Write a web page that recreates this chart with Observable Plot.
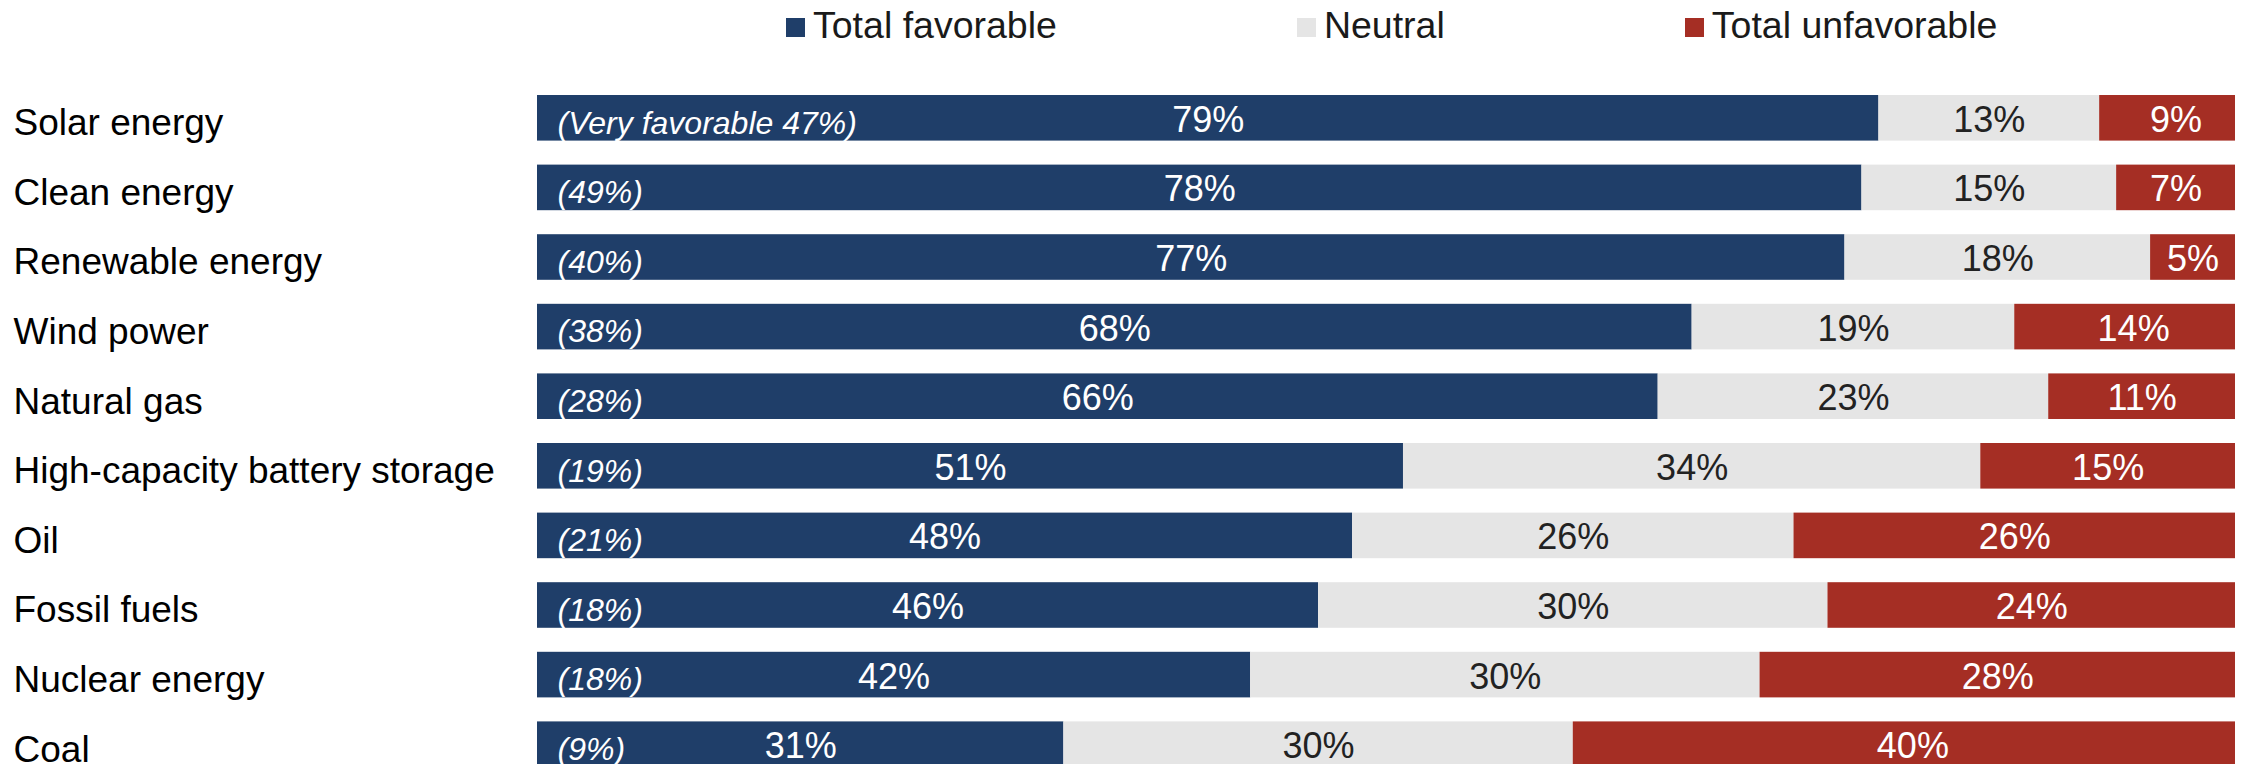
<!DOCTYPE html>
<html>
<head>
<meta charset="utf-8">
<script src="https://cdn.jsdelivr.net/npm/d3@7"></script>
<script src="https://cdn.jsdelivr.net/npm/@observablehq/plot@0.6"></script>
<style>
  html, body { margin: 0; padding: 0; background: #fff; overflow: hidden; }
  body { width: 2250px; height: 764px; font-family: "Liberation Sans", Arial, sans-serif; }
  #legend { position: relative; height: 50px; }
  #legend .items { position: absolute; left: 786px; top: 7px; display: flex; gap: 240px; }
  #legend .item { display: flex; align-items: center; font-size: 37.5px; line-height: 37px; color: #1a1a1a; white-space: nowrap; }
  #legend .sw { width: 19px; height: 19px; margin-right: 8px; margin-top: 4px; }
  #chart svg { display: block; }
</style>
</head>
<body>
<div id="legend"><div class="items"></div></div>
<div id="chart"></div>
<script>
const categories = ["Solar energy", "Clean energy", "Renewable energy", "Wind power", "Natural gas",
  "High-capacity battery storage", "Oil", "Fossil fuels", "Nuclear energy", "Coal"];
const favorable   = [79, 78, 77, 68, 66, 51, 48, 46, 42, 31];
const neutral     = [13, 15, 18, 19, 23, 34, 26, 30, 30, 30];
const unfavorable = [9, 7, 5, 14, 11, 15, 26, 24, 28, 40];
const veryFavorable = [47, 49, 40, 38, 28, 19, 21, 18, 18, 9];
const responses = ["Total favorable", "Neutral", "Total unfavorable"];
const colors = ["#1f3e69", "#e5e5e5", "#a52e24"];
const labelColors = ["#ffffff", "#222222", "#ffffff"];

const series = [favorable, neutral, unfavorable];
const data = categories.flatMap((c, i) =>
  responses.map((r, j) => ({item: c, resp: r, value: series[j][i]})));

// legend
const items = document.querySelector("#legend .items");
responses.forEach((r, j) => {
  const el = document.createElement("div");
  el.className = "item";
  const sw = document.createElement("span");
  sw.className = "sw";
  sw.style.background = colors[j];
  el.appendChild(sw);
  el.appendChild(document.createTextNode(r));
  items.appendChild(el);
});

const valueMarks = responses.map((r, j) =>
  Plot.text(data, Plot.stackX({
    x: "value", y: "item", z: "resp",
    text: d => d.resp === r ? d.value + "%" : "",
    fill: labelColors[j], fontSize: 36, dy: 2
  })));

const chart = Plot.plot({
  width: 2250,
  height: 741,
  marginTop: 21,
  marginBottom: 0,
  marginLeft: 537,
  marginRight: 15,
  style: {fontFamily: "'Liberation Sans', Arial, sans-serif", background: "transparent"},
  x: {domain: [0, 100], axis: null},
  y: {domain: categories, axis: null, padding: 0.345, round: false},
  color: {domain: responses, range: colors},
  marks: [
    Plot.barX(data, Plot.stackX({x: "value", y: "item", fill: "resp", z: "resp", clip: true})),
    ...valueMarks,
    Plot.text(categories, {
      y: d => d,
      text: (d, i) => i === 0 ? `(Very favorable ${veryFavorable[i]}%)` : `(${veryFavorable[i]}%)`,
      frameAnchor: "left", textAnchor: "start", dx: 20, dy: 5,
      fill: "white", fontStyle: "italic", fontSize: 32
    }),
    Plot.text(categories, {
      y: d => d, text: d => d,
      frameAnchor: "left", textAnchor: "start", dx: -524, dy: 5,
      fill: "#000", fontSize: 37
    })
  ]
});
document.getElementById("chart").appendChild(chart);
</script>
</body>
</html>
